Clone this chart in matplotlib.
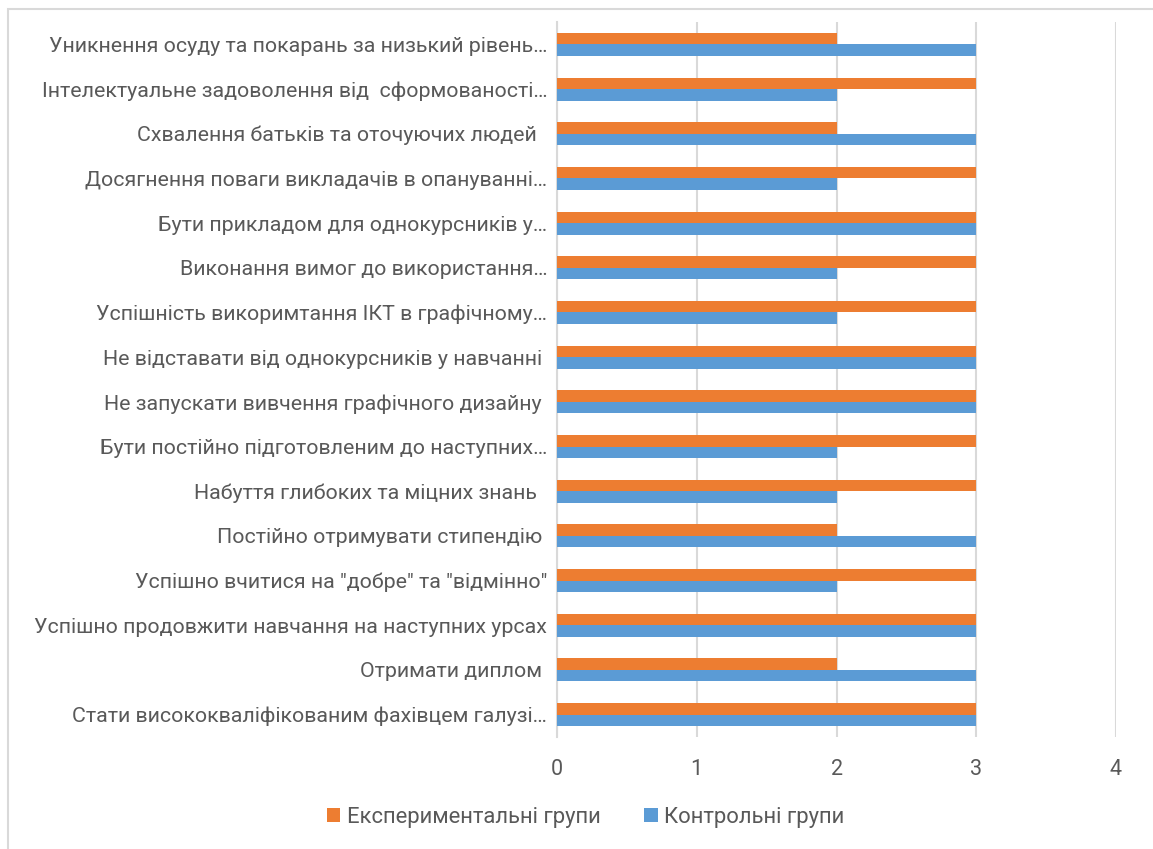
import matplotlib
matplotlib.use('Agg')
import matplotlib.pyplot as plt
from matplotlib.patches import Rectangle
import numpy as np

plt.rcParams['font.family'] = ['Roboto', 'DejaVu Sans']

# категорії знизу вгору (як у Excel)
categories = [
    'Стати висококваліфікованим фахівцем галузі…',
    'Отримати диплом ',
    'Успішно продовжити навчання на наступних урсах',
    'Успішно вчитися на "добре" та "відмінно"',
    'Постійно отримувати стипендію ',
    'Набуття глибоких та міцних знань  ',
    'Бути постійно підготовленим до наступних…',
    'Не запускати вивчення графічного дизайну ',
    'Не відставати від однокурсників у навчанні ',
    'Успішність викоримтання ІКТ в графічному…',
    'Виконання вимог до використання…',
    'Бути прикладом для однокурсників у…',
    'Досягнення поваги викладачів в опануванні…',
    'Схвалення батьків та оточуючих людей  ',
    'Інтелектуальне задоволення від  сформованості…',
    'Уникнення осуду та покарань за низький рівень…',
]
control = [3, 3, 3, 2, 3, 2, 2, 3, 3, 2, 2, 3, 2, 3, 2, 3]
experimental = [3, 2, 3, 3, 2, 3, 3, 3, 3, 3, 3, 3, 3, 2, 3, 2]
x_ticks = [0, 1, 2, 3, 4]

blue = '#5B9BD5'
orange = '#ED7D31'
text_color = '#595959'
grid_color = '#D9D9D9'

fig = plt.figure(figsize=(11.53, 8.49), dpi=100)
ax = fig.add_axes([557 / 1153, 1 - 737 / 849, (1116 - 557) / 1153, (737 - 22) / 849])

y = np.arange(len(categories))
h = 0.257
ax.barh(y - h / 2, control, height=h, color=blue, label='Контрольні групи', zorder=3)
ax.barh(y + h / 2, experimental, height=h, color=orange, label='Експериментальні групи', zorder=3)

ax.set_xlim(0, 4)
ax.set_ylim(-0.5, len(categories) - 0.5)
ax.set_xticks(x_ticks)
ax.set_yticks(y)
ax.set_yticklabels(categories)
ax.tick_params(axis='both', length=0, colors=text_color, labelsize=15.4)
ax.tick_params(axis='x', pad=16, labelsize=15.5)
ax.tick_params(axis='y', pad=7)
ax.grid(axis='x', color=grid_color, linewidth=1.5, zorder=0)
for s in ['top', 'right', 'bottom']:
    ax.spines[s].set_visible(False)
ax.spines['left'].set_color(grid_color)
ax.spines['left'].set_linewidth(1.5)

handles, labels = ax.get_legend_handles_labels()
fig.legend(handles[::-1], labels[::-1], loc='center', bbox_to_anchor=(0.508, 1 - 817 / 849),
           ncol=2, frameon=False, fontsize=15.8, labelcolor=text_color,
           handlelength=0.6, handleheight=0.6, handletextpad=0.3, columnspacing=2.0)

# рамка області діаграми
fig.add_artist(Rectangle((8 / 1153, -0.01), 1.1, 1 - 9 / 849 + 0.01, transform=fig.transFigure,
                         fill=False, edgecolor=grid_color, linewidth=1.5))

plt.savefig('out.png', dpi=100)
